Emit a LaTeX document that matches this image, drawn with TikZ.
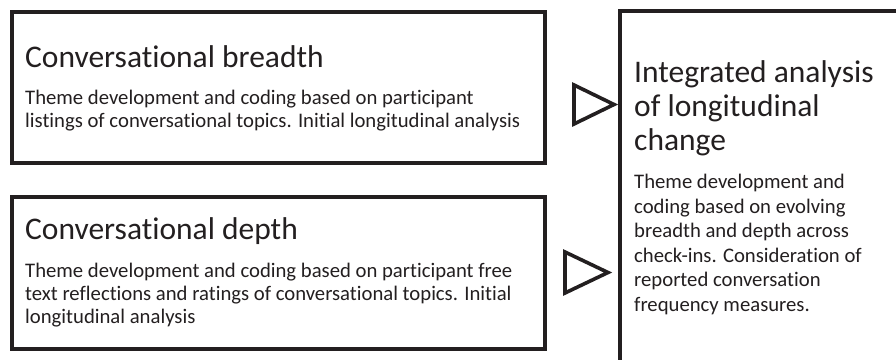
\documentclass[tikz,border=0pt]{standalone}
\usepackage{fontspec}
\setmainfont{Carlito}[Ligatures=NoCommon]
\definecolor{ink}{HTML}{231F20}
\begin{document}
\begin{tikzpicture}[x=1pt,y=-1pt,
  box/.style={draw=ink, line width=4pt, inner sep=0pt, outer sep=0pt, anchor=north west},
  title/.style={anchor=base west, inner sep=0pt, align=left, text=ink, font=\fontsize{31.5}{34}\selectfont},
  body/.style={anchor=base west, inner sep=0pt, align=left, text=ink, font=\fontsize{20.7}{23}\selectfont},
  rbody/.style={anchor=base west, inner sep=0pt, align=left, text=ink, font=\fontsize{20.7}{24.5}\selectfont},
  tri/.style={draw=ink, line width=3.6pt, miter limit=10}]
\clip (0,0) rectangle (896,359);
\fill[white] (0,0) rectangle (896,359);
\node[box, minimum width=533.5pt, minimum height=151pt] (b1) at (11.5,11.5) {};
\node[box, minimum width=533.5pt, minimum height=152pt] (b2) at (11.5,197) {};
\node[box, minimum width=300pt, minimum height=370pt] (b3) at (620,10.5) {};
% base anchor of a multi-line node = baseline of its last line
\node[title] (t1) at (25,67) {Conversational breadth};
\node[body] (d1) at (25,127.5) {Theme development and coding based on participant\\listings of conversational topics. Initial longitudinal analysis};
\node[title] (t2) at (25,239) {Conversational depth};
\node[body] (d2) at (25,323) {Theme development and coding based on participant free\\text reflections and ratings of conversational topics. Initial\\longitudinal analysis};
\node[title] (t3) at (634,150) {Integrated analysis\\of longitudinal\\change};
\node[rbody] (d3) at (634,311) {Theme development and\\coding based on evolving\\breadth and depth across\\check-ins. Consideration of\\reported conversation\\frequency measures.};
\draw[tri] (574,85) -- (614,104.5) -- (574,124) -- cycle;
\draw[tri] (565,252) -- (608,272.5) -- (565,293) -- cycle;
\end{tikzpicture}
\end{document}
